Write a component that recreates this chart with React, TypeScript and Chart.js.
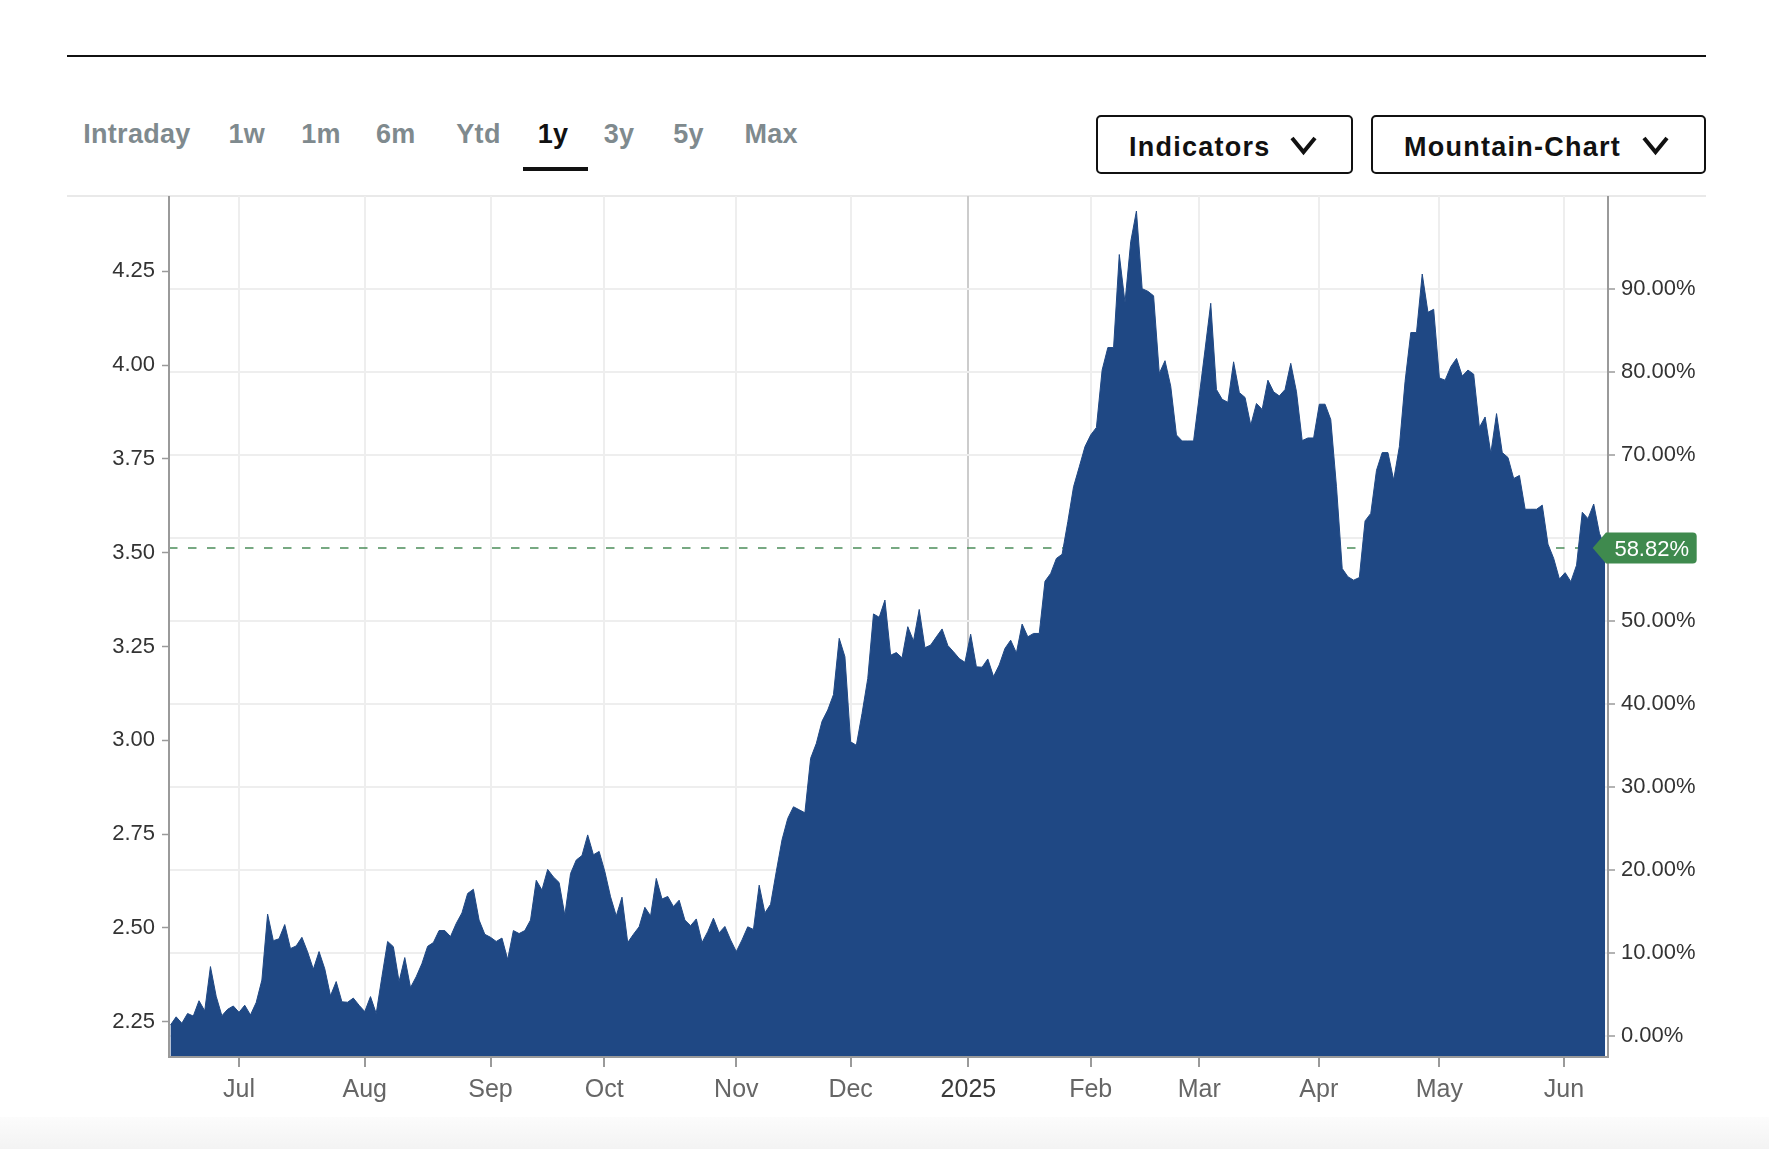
import React, { useEffect, useRef } from "react";
import { Chart, registerables } from "chart.js";

Chart.register(...registerables);

// ---- data ----
const prices: number[] = [
  2.241, 2.263, 2.246, 2.272, 2.265, 2.306, 2.279, 2.397, 2.318, 2.266,
  2.283, 2.292, 2.275, 2.294, 2.268, 2.301, 2.361, 2.537, 2.466, 2.471,
  2.509, 2.445, 2.452, 2.475, 2.436, 2.390, 2.437, 2.391, 2.319, 2.357,
  2.303, 2.302, 2.313, 2.294, 2.277, 2.317, 2.272, 2.370, 2.464, 2.450,
  2.357, 2.421, 2.341, 2.370, 2.405, 2.451, 2.461, 2.493, 2.493, 2.477,
  2.512, 2.540, 2.592, 2.603, 2.521, 2.483, 2.475, 2.464, 2.473, 2.416,
  2.493, 2.485, 2.493, 2.521, 2.627, 2.601, 2.656, 2.636, 2.621, 2.534,
  2.645, 2.681, 2.693, 2.748, 2.695, 2.704, 2.650, 2.583, 2.532, 2.582,
  2.461, 2.483, 2.503, 2.555, 2.532, 2.632, 2.577, 2.584, 2.557, 2.574,
  2.521, 2.506, 2.524, 2.461, 2.490, 2.526, 2.487, 2.504, 2.468, 2.437,
  2.468, 2.503, 2.496, 2.614, 2.540, 2.563, 2.651, 2.735, 2.792, 2.823,
  2.815, 2.807, 2.952, 2.992, 3.051, 3.081, 3.122, 3.272, 3.223, 2.996,
  2.987, 3.072, 3.165, 3.337, 3.328, 3.374, 3.227, 3.234, 3.220, 3.303,
  3.265, 3.349, 3.247, 3.254, 3.276, 3.297, 3.253, 3.236, 3.218, 3.208,
  3.283, 3.196, 3.195, 3.217, 3.170, 3.201, 3.245, 3.267, 3.233, 3.310,
  3.276, 3.285, 3.285, 3.424, 3.445, 3.485, 3.496, 3.583, 3.676, 3.729,
  3.783, 3.814, 3.834, 3.987, 4.047, 4.047, 4.295, 4.167, 4.329, 4.411,
  4.204, 4.197, 4.185, 3.978, 4.012, 3.944, 3.814, 3.798, 3.798, 3.798,
  3.919, 4.041, 4.165, 3.935, 3.909, 3.901, 4.009, 3.927, 3.914, 3.840,
  3.898, 3.882, 3.960, 3.929, 3.918, 3.935, 4.005, 3.929, 3.799, 3.806,
  3.806, 3.896, 3.896, 3.855, 3.676, 3.458, 3.436, 3.427, 3.434, 3.585,
  3.605, 3.720, 3.767, 3.767, 3.694, 3.783, 3.957, 4.087, 4.087, 4.243,
  4.141, 4.149, 3.966, 3.960, 3.996, 4.018, 3.971, 3.987, 3.976, 3.834,
  3.862, 3.765, 3.871, 3.767, 3.754, 3.698, 3.706, 3.616, 3.616, 3.616,
  3.627, 3.523, 3.485, 3.430, 3.447, 3.423, 3.467, 3.608, 3.591, 3.630,
  3.552, 3.513,
];

const monthTickIndex: number[] = [12, 34, 56, 75.9, 99, 119, 139.6, 161, 180, 200.9, 222, 243.8];
const monthLabels: string[] = ["Jul", "Aug", "Sep", "Oct", "Nov", "Dec", "2025", "Feb", "Mar", "Apr", "May", "Jun"];
const leftTicks: number[] = [2.25, 2.5, 2.75, 3.0, 3.25, 3.5, 3.75, 4.0, 4.25];
const rightTicks: number[] = [0, 10, 20, 30, 40, 50, 60, 70, 80, 90];
const basePrice = 2.212;
const priceMin = 2.156;
const priceMax = 4.451;
const tabs: string[] = ["Intraday", "1w", "1m", "6m", "Ytd", "1y", "3y", "5y", "Max"];
const activeTab = "1y";

const FONT = '"Liberation Sans", Arial, sans-serif';
const AREA = "#1f4884";
const AXIS = "#9a9a9a";
const GRID = "#eeeeee";
const GREEN = "#3f8a4e";

const pct = (p: number) => (p / basePrice - 1) * 100;
const lastPrice = prices[prices.length - 1];
const lastPct = pct(lastPrice);

const overlayPlugin = {
  id: "overlay",
  beforeDatasetsDraw(chart: any) {
    const { ctx, chartArea: a, scales } = chart;
    const y = scales.y.getPixelForValue(lastPrice);
    ctx.save();
    ctx.strokeStyle = "#4b8d59";
    ctx.lineWidth = 1.5;
    ctx.setLineDash([8.5, 10.5]);
    ctx.beginPath();
    ctx.moveTo(a.left, y);
    ctx.lineTo(a.right, y);
    ctx.stroke();
    ctx.restore();
  },
  afterDatasetsDraw(chart: any) {
    const { ctx, chartArea: a } = chart;
    ctx.save();
    ctx.strokeStyle = AXIS;
    ctx.lineWidth = 2;
    ctx.beginPath();
    ctx.moveTo(a.left, a.top);
    ctx.lineTo(a.left, a.bottom);
    ctx.lineTo(a.right, a.bottom);
    ctx.lineTo(a.right, a.top);
    ctx.stroke();
    ctx.restore();
  },
  afterDraw(chart: any) {
    const { ctx, chartArea: a, scales } = chart;
    const cy = scales.y.getPixelForValue(lastPrice);
    const tip = a.right - 15.3;
    const boxL = a.right - 2;
    const boxR = a.right + 88.7;
    const h = 15.5;
    const r = 4;
    ctx.save();
    ctx.fillStyle = GREEN;
    ctx.beginPath();
    ctx.moveTo(tip, cy);
    ctx.lineTo(boxL, cy - h);
    ctx.lineTo(boxR - r, cy - h);
    ctx.arcTo(boxR, cy - h, boxR, cy - h + r, r);
    ctx.lineTo(boxR, cy + h - r);
    ctx.arcTo(boxR, cy + h, boxR - r, cy + h, r);
    ctx.lineTo(boxL, cy + h);
    ctx.closePath();
    ctx.fill();
    ctx.fillStyle = "#ffffff";
    ctx.font = `22px ${FONT}`;
    ctx.textAlign = "center";
    ctx.textBaseline = "middle";
    ctx.fillText(lastPct.toFixed(2) + "%", a.right + 43.7, cy + 2);
    ctx.restore();
  },
};

function PriceChart() {
  const ref = useRef<HTMLCanvasElement | null>(null);
  useEffect(() => {
    if (!ref.current) return;
    const chart = new Chart(ref.current, {
      type: "line",
      data: {
        datasets: [
          {
            data: prices.map((p, i) => ({ x: i, y: p })),
            borderColor: AREA,
            backgroundColor: AREA,
            borderWidth: 1,
            fill: "start",
            pointRadius: 0,
            tension: 0,
            yAxisID: "y",
          },
        ],
      },
      options: {
        animation: false,
        responsive: false,
        events: [],
        layout: { padding: { top: 16, left: 0, right: 0, bottom: 0 } },
        plugins: { legend: { display: false }, tooltip: { enabled: false } },
        scales: {
          x: {
            type: "linear",
            min: -0.25,
            max: 251.5,
            afterBuildTicks: (s: any) => {
              s.ticks = monthTickIndex.map((v) => ({ value: v }));
            },
            afterFit: (s: any) => {
              s.height = 63;
              s.paddingLeft = 0;
              s.paddingRight = 0;
            },
            ticks: {
              autoSkip: false,
              maxRotation: 0,
              padding: 8.5,
              font: { family: FONT, size: 25 },
              color: (c: any) => (monthLabels[c.index] === "2025" ? "#3a3a3a" : "#666666"),
              callback: (_v: any, i: number) => monthLabels[i],
            },
            grid: {
              color: (c: any) => (c.tick && monthLabels[c.index] === "2025" ? "#cccccc" : GRID),
              lineWidth: 2,
              tickColor: AXIS,
              tickLength: 10,
              tickWidth: 2,
            },
            border: { display: false },
          },
          y: {
            type: "linear",
            position: "left",
            min: priceMin,
            max: priceMax,
            afterBuildTicks: (s: any) => {
              s.ticks = leftTicks.map((v) => ({ value: v }));
            },
            afterFit: (s: any) => {
              s.width = 109;
              s.paddingTop = 0;
              s.paddingBottom = 0;
            },
            ticks: {
              padding: 7,
              font: { family: FONT, size: 22 },
              color: "#333333",
              callback: (v: any) => Number(v).toFixed(2),
            },
            grid: { drawOnChartArea: false, tickColor: AXIS, tickLength: 7, tickWidth: 1.5 },
            border: { display: false },
          },
          y2: {
            type: "linear",
            position: "right",
            min: pct(priceMin),
            max: pct(priceMax),
            afterBuildTicks: (s: any) => {
              s.ticks = rightTicks.map((v) => ({ value: v }));
            },
            afterFit: (s: any) => {
              s.width = 112;
              s.paddingTop = 0;
              s.paddingBottom = 0;
            },
            ticks: {
              padding: 6,
              font: { family: FONT, size: 22 },
              color: "#333333",
              // the label under the last-value tag is covered by it
              callback: (v: any) => (Math.abs(Number(v) - lastPct) < 3 ? "" : Number(v).toFixed(2) + "%"),
            },
            grid: { color: GRID, lineWidth: 2, tickColor: AXIS, tickLength: 7, tickWidth: 1.5 },
            border: { display: false },
          },
        },
      },
      plugins: [overlayPlugin],
    } as any);
    return () => chart.destroy();
  }, []);
  return (
    <canvas
      ref={ref}
      width={1660}
      height={940}
      style={{ position: "absolute", left: 60, top: 180, width: 1660, height: 940 }}
    />
  );
}

const tabX: number[] = [83.2, 228.5, 301.3, 376, 456.3, 537.8, 603.8, 673.3, 744.5];

function Chevron({ x }: { x: number }) {
  return (
    <svg
      style={{ position: "absolute", left: x, top: 135, overflow: "visible" }}
      width={27}
      height={22}
    >
      <polyline points="2,3 13.5,17 25,3" fill="none" stroke="#111" strokeWidth={4} />
    </svg>
  );
}

export default function App() {
  const btnText: React.CSSProperties = {
    position: "absolute",
    top: 133.5,
    fontFamily: FONT,
    fontWeight: 700,
    fontSize: 27,
    lineHeight: "27px",
    letterSpacing: 1.25,
    color: "#111",
    whiteSpace: "nowrap",
  };
  return (
    <div
      style={{
        position: "absolute",
        left: 0,
        top: 0,
        width: 1769,
        height: 1149,
        background: "#ffffff",
        overflow: "hidden",
        fontFamily: FONT,
      }}
    >
      <div style={{ position: "absolute", left: 67, top: 54.5, width: 1639, height: 2, background: "#111" }} />
      {tabs.map((t, i) => (
        <div
          key={t}
          style={{
            position: "absolute",
            left: tabX[i],
            top: 120.5,
            fontWeight: 700,
            fontSize: 27,
            lineHeight: "27px",
            letterSpacing: 0.3,
            color: t === activeTab ? "#111" : "#7f8a8e",
            whiteSpace: "nowrap",
          }}
        >
          {t}
        </div>
      ))}
      <div style={{ position: "absolute", left: 523, top: 166.7, width: 65, height: 4, background: "#111" }} />
      <div
        style={{
          position: "absolute",
          left: 1095.6,
          top: 115.3,
          width: 257.7,
          height: 58.7,
          border: "2px solid #111",
          borderRadius: 5,
          boxSizing: "border-box",
        }}
      />
      <div style={{ ...btnText, left: 1129 }}>Indicators</div>
      <Chevron x={1289.5} />
      <div
        style={{
          position: "absolute",
          left: 1371,
          top: 115.3,
          width: 335,
          height: 58.7,
          border: "2px solid #111",
          borderRadius: 5,
          boxSizing: "border-box",
        }}
      />
      <div style={{ ...btnText, left: 1404 }}>Mountain-Chart</div>
      <Chevron x={1641.5} />
      <div style={{ position: "absolute", left: 67, top: 194.5, width: 1639, height: 2, background: "#e9e9e9" }} />
      <PriceChart />
      <div
        style={{
          position: "absolute",
          left: 0,
          top: 1117,
          width: 1769,
          height: 32,
          background: "linear-gradient(to bottom, #fcfcfc, #f3f3f3)",
        }}
      />
    </div>
  );
}
